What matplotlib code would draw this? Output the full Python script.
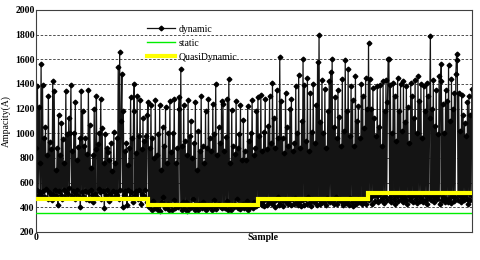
import matplotlib
matplotlib.use('Agg')
import matplotlib.pyplot as plt

# dynamic ampacity per sample in four stretches
dyn_1 = [880, 540, 1380, 500, 1210, 760, 520, 1560, 490, 1390,
         530, 960, 480, 1050, 550, 820, 470, 1300, 520, 930,
         500, 870, 460, 1420, 510, 1340, 540, 700, 490, 880,
         420, 1150, 530, 820, 500, 1080, 470, 950, 540, 760,
         480, 1340, 520, 990, 505, 1120, 560, 1000, 1390, 490,
         860, 530, 1000, 470, 1250, 510, 780, 540, 890, 480,
         960, 400, 1340, 520, 1180, 490, 900, 530, 960, 470,
         830, 520, 1350, 460, 1070, 540, 720, 500, 820, 440,
         1200, 510, 870, 1300, 480, 910, 550, 1000, 520, 1280,
         470, 1040, 530, 760, 390, 990, 500, 880, 540, 850,
         450, 780, 510, 920, 480, 690, 530, 1010, 480, 760,
         520, 960, 500, 1540, 470, 1660, 540, 1100, 1480, 400,
         1180, 500, 860, 530, 920, 420, 740, 540, 880, 480,
         1290, 520, 960, 440, 1180, 1400, 500, 840, 530, 1300,
         470, 980, 540, 1270, 430, 870, 510, 1120, 490, 940,
         540, 980, 440, 1150]
dyn_2 = [1250, 400, 880, 420, 1230, 380, 960, 450, 800, 390,
         1270, 410, 820, 380, 990, 420, 1230, 370, 700, 440,
         1050, 480, 900, 390, 1210, 400, 760, 430, 1000, 380,
         1260, 420, 850, 380, 1000, 460, 1280, 390, 760, 410,
         880, 400, 1200, 1290, 420, 1520, 380, 900, 440, 1230,
         390, 940, 440, 820, 370, 1270, 420, 980, 390, 1100,
         400, 800, 470, 920, 380, 1250, 410, 700, 380, 1020,
         430, 860, 410, 1300, 395, 900, 440, 760, 390, 1180,
         375, 880, 420, 1280, 400, 960, 420, 860, 380, 1240,
         460, 990, 400, 1400, 385, 820, 420, 1050, 430, 920,
         400, 1260, 390, 1240, 420, 860, 390, 970, 450, 1280,
         380, 1440, 410, 760, 380, 1190, 420, 900, 400, 830,
         430, 1260, 470, 880, 390, 990, 385, 1230, 420, 780,
         430, 1110, 395, 860, 410, 780, 450, 1220, 380, 940,
         400, 1000, 420, 1270, 390, 820, 440, 880, 410, 1180,
         420]
dyn_3 = [1290, 430, 980, 450, 1310, 420, 860, 450, 1010, 410,
         1280, 470, 870, 420, 1060, 440, 1300, 460, 920, 430,
         1410, 440, 1120, 400, 880, 460, 1350, 480, 960, 420,
         1620, 430, 1260, 455, 960, 410, 840, 470, 1330, 440,
         1050, 425, 900, 460, 1200, 415, 1280, 470, 860, 430,
         920, 475, 1380, 440, 1000, 420, 1470, 450, 880, 410,
         1100, 460, 1600, 420, 1390, 470, 940, 430, 1450, 480,
         860, 440, 1330, 410, 1010, 465, 1400, 440, 920, 455,
         1230, 420, 1580, 470, 1800, 430, 1090, 435, 1430, 460,
         1000, 440, 1360, 415, 880, 475, 1180, 450, 1420, 440,
         1500, 460, 1600, 450, 1050, 425, 1290, 480, 960, 430,
         1350, 460, 1130, 470, 900, 445, 1440, 420, 1020, 460,
         1590, 435, 1180, 460, 1520, 420, 980, 475, 1380, 440,
         1270, 410, 900, 455, 1460, 430, 1100, 470, 1220, 440,
         960, 460, 1400, 425, 1300, 450, 1040, 470, 1450, 430,
         1200]
dyn_4 = [470, 1730, 460, 1440, 480, 1200, 430, 1370, 500, 1120,
         450, 980, 490, 1380, 440, 1050, 510, 1390, 460, 900,
         470, 1420, 435, 1180, 495, 1430, 455, 1250, 1600, 1600,
         480, 1390, 440, 1000, 505, 1410, 465, 1300, 430, 940,
         490, 1450, 450, 1180, 500, 1400, 470, 1020, 440, 1420,
         485, 1090, 460, 1380, 430, 1210, 495, 920, 455, 1410,
         480, 1300, 440, 1120, 500, 1430, 465, 1000, 435, 1460,
         490, 1260, 450, 1400, 470, 960, 440, 1380, 500, 1180,
         460, 1410, 430, 1300, 480, 1120, 1790, 455, 1200, 495,
         1430, 440, 1060, 480, 1350, 465, 990, 500, 1460, 430,
         1420, 1560, 460, 1240, 485, 1000, 440, 1350, 470, 1260,
         440, 1550, 465, 1100, 435, 1440, 490, 1200, 450, 1330,
         480, 1480, 1640, 1590, 460, 1330, 500, 1020, 445, 1310,
         480, 1150, 455, 1080, 500, 980, 470, 1250, 430, 1300,
         460, 1150, 500, 1360]
dynamic = dyn_1 + dyn_2 + dyn_3 + dyn_4
samples = list(range(len(dynamic)))

static_level = 350
quasi_levels = [465, 420, 465, 515]
quasi_edges = [0, 154, 305, 456, len(dynamic) - 1]

y_ticks = [200, 400, 600, 800, 1000, 1200, 1400, 1600, 1800, 2000]

plt.rcParams['font.family'] = ['Liberation Serif', 'DejaVu Serif']

fig, ax = plt.subplots(figsize=(4.8, 2.6), dpi=100)
fig.subplots_adjust(left=0.075, right=0.983, top=0.962, bottom=0.108)

ax.plot(samples, dynamic, color='#141414', linewidth=0.9, marker='D',
        markersize=2.4, markerfacecolor='black', markeredgecolor='black',
        label='dynamic', zorder=2)
ax.axhline(static_level, color='#00ee00', linewidth=1.0, label='static',
           zorder=3)
ax.stairs(quasi_levels, quasi_edges, baseline=None, color='#ffff00',
          linewidth=3.0, label='QuasiDynamic', zorder=4)

ax.set_xlim(0, len(dynamic) - 1)
ax.set_ylim(200, 2000)
ax.set_yticks(y_ticks)
ax.set_xticks([0])
ax.tick_params(length=0, pad=1, labelsize=7)
for lab in ax.get_xticklabels() + ax.get_yticklabels():
    lab.set_fontweight('bold')

ax.yaxis.grid(True, linestyle=(0, (3, 2)), color='#333333', linewidth=0.6)
for spine in ax.spines.values():
    spine.set_color('#404040')
    spine.set_linewidth(0.8)

ax.set_ylabel('Ampacity(A)', fontsize=7, labelpad=3)
ax.set_xlabel('Sample', fontsize=7, fontweight='bold')
ax.xaxis.set_label_coords(0.52, -0.007)

ax.legend(loc='upper left', bbox_to_anchor=(0.245, 0.95), frameon=False,
          fontsize=7, handlelength=2.9, handletextpad=0.4, labelspacing=0.5,
          borderaxespad=0)

plt.savefig('out.png', dpi=100)
